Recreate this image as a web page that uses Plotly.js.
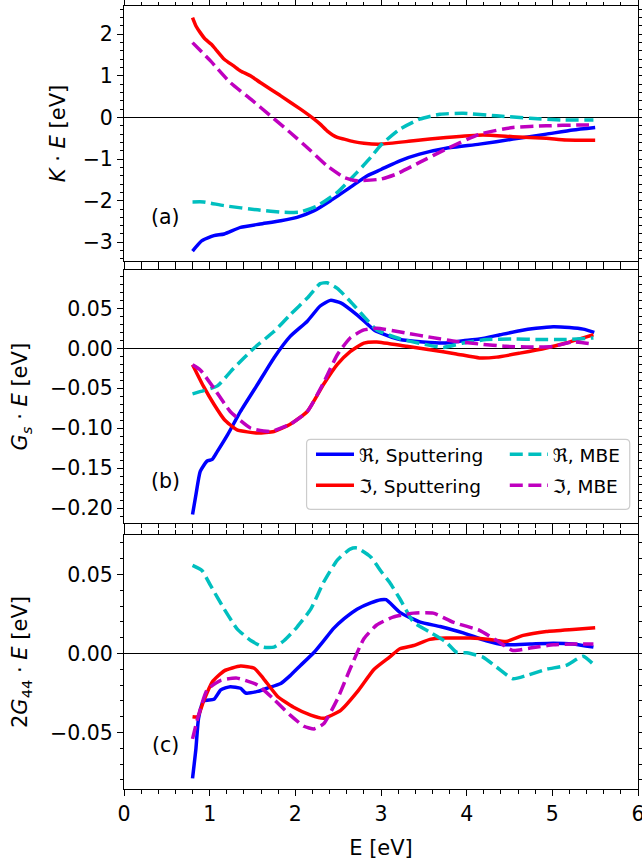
<!DOCTYPE html>
<html>
<head>
<meta charset="utf-8">
<script src="https://cdn.plot.ly/plotly-3.0.1.min.js"></script>
<style>html,body{margin:0;padding:0;background:#fff;}#chart{width:642px;height:863px;}</style>
</head>
<body>
<div id="chart"></div>
<script>
// ---------- DATA ----------
// Panel (a): K·E [eV]
const aReSputE = [0.80,0.91,1.05,1.17,1.36,1.59,1.83,2.02,2.22,2.41,2.64,2.84,3.00,3.22,3.45,3.76,4.15,4.54,4.93,5.24,5.50];
const aReSputV = [-3.21,-2.96,-2.84,-2.80,-2.64,-2.56,-2.48,-2.40,-2.24,-2.00,-1.68,-1.40,-1.25,-1.04,-0.88,-0.74,-0.64,-0.52,-0.40,-0.30,-0.24];
const aImSputE = [0.80,0.84,0.89,0.95,1.02,1.07,1.17,1.28,1.36,1.48,1.59,1.83,2.06,2.22,2.29,2.37,2.49,2.57,2.68,2.80,3.00,3.38,3.76,4.19,4.54,4.93,5.16,5.50];
const aImSputV = [2.40,2.20,2.04,1.88,1.76,1.64,1.40,1.24,1.12,1.00,0.84,0.52,0.20,-0.04,-0.16,-0.32,-0.48,-0.52,-0.58,-0.62,-0.64,-0.56,-0.48,-0.42,-0.46,-0.50,-0.54,-0.545];
const aReMbeE = [0.80,0.93,1.17,1.56,1.87,2.06,2.26,2.49,2.72,2.88,3.00,3.22,3.45,3.69,3.96,4.35,4.74,5.13,5.48];
const aReMbeV = [-2.03,-2.03,-2.12,-2.22,-2.28,-2.27,-2.12,-1.80,-1.32,-0.96,-0.66,-0.28,-0.04,0.08,0.10,0.04,-0.02,-0.06,-0.06];
const aImMbeE = [0.80,1.01,1.24,1.48,1.71,1.94,2.18,2.37,2.57,2.72,3.00,3.18,3.45,3.76,4.15,4.54,4.93,5.32,5.48];
const aImMbeV = [1.80,1.36,0.84,0.44,0.04,-0.36,-0.80,-1.16,-1.44,-1.52,-1.48,-1.36,-1.08,-0.76,-0.40,-0.24,-0.20,-0.18,-0.18];

// Panel (b): G_s·E [eV]
const bReSputE = [0.80,0.84,0.89,0.97,1.03,1.09,1.21,1.36,1.56,1.75,1.94,2.14,2.29,2.41,2.53,2.72,2.92,3.00,3.22,3.49,3.73,3.96,4.15,4.39,4.62,4.81,5.01,5.20,5.36,5.49];
const bReSputV = [-0.208,-0.183,-0.154,-0.141,-0.139,-0.129,-0.108,-0.079,-0.045,-0.012,0.015,0.034,0.053,0.060,0.057,0.042,0.023,0.019,0.011,0.008,0.0066,0.0095,0.0116,0.017,0.022,0.025,0.027,0.026,0.024,0.020];
const bImSputE = [0.80,0.84,0.93,1.05,1.17,1.32,1.56,1.75,1.94,2.14,2.33,2.49,2.64,2.80,2.95,3.30,3.57,3.88,4.15,4.35,4.62,4.93,5.16,5.36,5.48];
const bImSputV = [-0.0205,-0.029,-0.048,-0.070,-0.089,-0.102,-0.106,-0.104,-0.095,-0.079,-0.045,-0.020,-0.004,0.0066,0.008,0.0025,-0.0017,-0.007,-0.012,-0.011,-0.006,0.0004,0.0066,0.013,0.017];
const bReMbeE = [0.80,0.93,1.09,1.28,1.52,1.75,1.94,2.14,2.29,2.37,2.49,2.64,2.80,2.95,3.22,3.49,3.73,3.96,4.23,4.54,4.85,5.16,5.48];
const bReMbeV = [-0.057,-0.053,-0.047,-0.025,0.0004,0.021,0.042,0.063,0.081,0.082,0.075,0.059,0.040,0.023,0.012,0.0054,0.0012,0.0066,0.011,0.0116,0.011,0.011,0.013];
const bImMbeE = [0.80,0.89,1.05,1.24,1.48,1.71,1.94,2.14,2.33,2.49,2.64,2.80,2.95,3.30,3.57,3.88,4.15,4.46,4.74,5.01,5.24,5.48];
const bImMbeV = [-0.0205,-0.027,-0.050,-0.079,-0.100,-0.104,-0.095,-0.079,-0.043,-0.008,0.013,0.023,0.025,0.019,0.014,0.0087,0.0054,0.0025,0.0016,0.0025,0.008,0.0054];

// Panel (c): 2G_44·E [eV]
const cReSputE = [0.80,0.84,0.87,0.93,1.05,1.13,1.24,1.36,1.42,1.56,1.67,1.83,1.94,2.06,2.22,2.33,2.45,2.57,2.72,2.88,3.00,3.06,3.22,3.45,3.69,3.96,4.23,4.43,4.74,5.01,5.24,5.48];
const cReSputV = [-0.079,-0.060,-0.041,-0.030,-0.029,-0.023,-0.021,-0.022,-0.025,-0.024,-0.022,-0.019,-0.014,-0.0076,0.0008,0.008,0.016,0.022,0.028,0.032,0.034,0.034,0.026,0.020,0.017,0.013,0.008,0.0055,0.006,0.0065,0.006,0.004];
const cImSputE = [0.80,0.86,0.93,1.03,1.17,1.36,1.52,1.63,1.79,1.98,2.18,2.33,2.53,2.72,2.92,3.10,3.22,3.38,3.57,3.76,4.04,4.27,4.46,4.66,4.93,5.24,5.50];
const cImSputV = [-0.040,-0.040,-0.030,-0.018,-0.011,-0.008,-0.0093,-0.016,-0.027,-0.034,-0.039,-0.041,-0.036,-0.0245,-0.010,-0.0023,0.003,0.005,0.0089,0.0097,0.0097,0.0089,0.0076,0.0114,0.0139,0.0152,0.0162];
const cReMbeE = [0.80,0.91,1.01,1.17,1.32,1.48,1.63,1.75,1.87,2.02,2.18,2.33,2.49,2.64,2.72,2.88,3.00,3.10,3.22,3.38,3.57,3.76,3.88,4.00,4.19,4.35,4.54,4.70,4.93,5.16,5.36,5.50];
const cReMbeV = [0.0557,0.0525,0.043,0.028,0.0156,0.0082,0.004,0.004,0.0082,0.0167,0.028,0.045,0.059,0.066,0.0667,0.061,0.052,0.045,0.0346,0.0198,0.0135,0.0072,0.0008,0.0004,-0.0023,-0.0087,-0.016,-0.0139,-0.010,-0.0076,-0.0017,-0.008];
const cImMbeE = [0.80,0.86,0.97,1.13,1.32,1.56,1.75,1.94,2.10,2.22,2.33,2.49,2.64,2.80,2.95,3.14,3.38,3.61,3.84,4.15,4.35,4.54,4.74,5.01,5.24,5.48];
const cImMbeV = [-0.054,-0.041,-0.023,-0.017,-0.0156,-0.020,-0.029,-0.039,-0.046,-0.0477,-0.0445,-0.029,-0.0097,0.0093,0.018,0.023,0.0255,0.0255,0.0198,0.0146,0.0082,0.0019,0.0034,0.0055,0.006,0.006];

const seriesNames = ["\u211C, Sputtering", "\u2111, Sputtering", "\u211C, MBE", "\u2111, MBE"];
const panelLabels = ["(a)", "(b)", "(c)"];
const yTitles = ["<i>K</i> \u00B7 <i>E</i> [eV]", "<i>G<sub>s</sub></i> \u00B7 <i>E</i> [eV]", "2<i>G</i><sub>44</sub> \u00B7 <i>E</i> [eV]"];
const xTitle = "E [eV]";
const xTickVals = [0, 1, 2, 3, 4, 5, 6];
const xTickText = ["0", "1", "2", "3", "4", "5", "6"];
const aTickVals = [-3, -2, -1, 0, 1, 2];
const aTickText = ["\u22123", "\u22122", "\u22121", "0", "1", "2"];
const bTickVals = [-0.20, -0.15, -0.10, -0.05, 0.00, 0.05];
const bTickText = ["\u22120.20", "\u22120.15", "\u22120.10", "\u22120.05", "0.00", "0.05"];
const cTickVals = [-0.05, 0.00, 0.05];
const cTickText = ["\u22120.05", "0.00", "0.05"];

// ---------- STYLE ----------
const FONT = "DejaVu Sans";
const colors = ["#0000ff", "#ff0000", "#00bfbf", "#bf00bf"];
const dashes = ["solid", "solid", "13px,5.6px", "13px,5.6px"];
const LW = 3.5;

const panels = [
  {xa: "x", ya: "y", data: [[aReSputE,aReSputV],[aImSputE,aImSputV],[aReMbeE,aReMbeV],[aImMbeE,aImMbeV]]},
  {xa: "x2", ya: "y2", data: [[bReSputE,bReSputV],[bImSputE,bImSputV],[bReMbeE,bReMbeV],[bImMbeE,bImMbeV]]},
  {xa: "x3", ya: "y3", data: [[cReSputE,cReSputV],[cImSputE,cImSputV],[cReMbeE,cReMbeV],[cImMbeE,cImMbeV]]}
];

const traces = [];
panels.forEach((p, pi) => {
  p.data.forEach((d, si) => {
    traces.push({
      type: "scatter", mode: "lines",
      x: d[0], y: d[1],
      xaxis: p.xa, yaxis: p.ya,
      name: seriesNames[si],
      line: {color: colors[si], width: LW, dash: dashes[si], shape: "spline", smoothing: 0.5},
      showlegend: pi === 1,
      legend: si < 2 ? "legend" : "legend2",
      legendgroup: "g" + si
    });
  });
});

const TICK_SIZE = 20.5, TITLE_SIZE = 21, LEG_SIZE = 18.5;
const tickFont = {family: FONT, size: TICK_SIZE, color: "black"};
const titleFont = {family: FONT, size: TITLE_SIZE, color: "black"};
function xAx(extra) {
  return Object.assign({
    range: [0, 6], tickmode: "array", tickvals: xTickVals, ticktext: xTickText,
    showline: true, linecolor: "black", linewidth: 1, mirror: "ticks",
    ticks: "outside", ticklen: 6, tickwidth: 1, tickcolor: "black",
    minor: {tick0: 0, dtick: 0.2, ticks: "outside", ticklen: 3.5, tickwidth: 1, tickcolor: "black", showgrid: false},
    showgrid: false, zeroline: false, tickfont: tickFont, showticklabels: false,
    ticklabeloverflow: "allow"
  }, extra);
}
function yAx(extra) {
  return Object.assign({
    showline: true, linecolor: "black", linewidth: 1, mirror: "ticks",
    ticks: "outside", ticklen: 6, tickwidth: 1, tickcolor: "black", tickmode: "array",
    showgrid: false, zeroline: true, zerolinecolor: "black", zerolinewidth: 1.2,
    tickfont: tickFont
  }, extra);
}

const gx0 = 0.3552, gx1 = 0.9839, gy0 = 0.3572, gy1 = 0.4466, rx = 0.008, ry = 0.0052;
const boxPath = `M ${gx0+rx},${gy0} L ${gx1-rx},${gy0} Q ${gx1},${gy0} ${gx1},${gy0+ry} L ${gx1},${gy1-ry} Q ${gx1},${gy1} ${gx1-rx},${gy1} L ${gx0+rx},${gy1} Q ${gx0},${gy1} ${gx0},${gy1-ry} L ${gx0},${gy0+ry} Q ${gx0},${gy0} ${gx0+rx},${gy0} Z`;

const legFont = {family: FONT, size: LEG_SIZE, color: "black"};
const layout = {
  width: 642, height: 863,
  margin: {l: 124, r: 4, t: 6, b: 74},
  paper_bgcolor: "white", plot_bgcolor: "white",
  font: {family: FONT, size: TICK_SIZE, color: "black"},
  xaxis: xAx({anchor: "y", domain: [0, 1]}),
  xaxis2: xAx({anchor: "y2", domain: [0, 1], matches: "x"}),
  xaxis3: xAx({anchor: "y3", domain: [0, 1], matches: "x", showticklabels: true,
    title: {text: xTitle, font: titleFont, standoff: 15}}),
  yaxis: yAx({anchor: "x", domain: [0.6743, 1], range: [-3.45, 2.68], tickvals: aTickVals, ticktext: aTickText,
    minor: {tick0: 0, dtick: 0.2, ticks: "outside", ticklen: 3.5, tickwidth: 1, tickcolor: "black", showgrid: false},
    title: {text: yTitles[0], font: titleFont, standoff: 11}}),
  yaxis2: yAx({anchor: "x2", domain: [0.3393, 0.6628], range: [-0.219, 0.098], tickvals: bTickVals, ticktext: bTickText,
    minor: {tick0: 0, dtick: 0.01, ticks: "outside", ticklen: 3.5, tickwidth: 1, tickcolor: "black", showgrid: false},
    title: {text: yTitles[1], font: titleFont, standoff: 16}}),
  yaxis3: yAx({anchor: "x3", domain: [0, 0.3244], range: [-0.0857, 0.0749], tickvals: cTickVals, ticktext: cTickText,
    minor: {tick0: 0, dtick: 0.01, ticks: "outside", ticklen: 3.5, tickwidth: 1, tickcolor: "black", showgrid: false},
    title: {text: yTitles[2], font: titleFont, standoff: 16}}),
  legend: {x: 0.3638, y: 0.4511, xanchor: "left", yanchor: "top", bgcolor: "rgba(0,0,0,0)", borderwidth: 0,
    font: legFont, traceorder: "grouped", tracegroupgap: 4, itemwidth: 38},
  legend2: {x: 0.7408, y: 0.4511, xanchor: "left", yanchor: "top", bgcolor: "rgba(0,0,0,0)", borderwidth: 0,
    font: legFont, traceorder: "grouped", tracegroupgap: 4, itemwidth: 38},
  shapes: [{type: "path", xref: "paper", yref: "paper", path: boxPath, layer: "above",
    line: {color: "#cccccc", width: 1.2}, fillcolor: "rgba(255,255,255,0.8)"}],
  annotations: [
    {xref: "x", yref: "y", x: 0.48, y: -2.39, text: panelLabels[0], showarrow: false, font: tickFont},
    {xref: "x2", yref: "y2", x: 0.48, y: -0.166, text: panelLabels[1], showarrow: false, font: tickFont},
    {xref: "x3", yref: "y3", x: 0.48, y: -0.058, text: panelLabels[2], showarrow: false, font: tickFont}
  ],
  showlegend: true
};

Plotly.newPlot("chart", traces, layout, {staticPlot: true, displayModeBar: false});
</script>
</body>
</html>
